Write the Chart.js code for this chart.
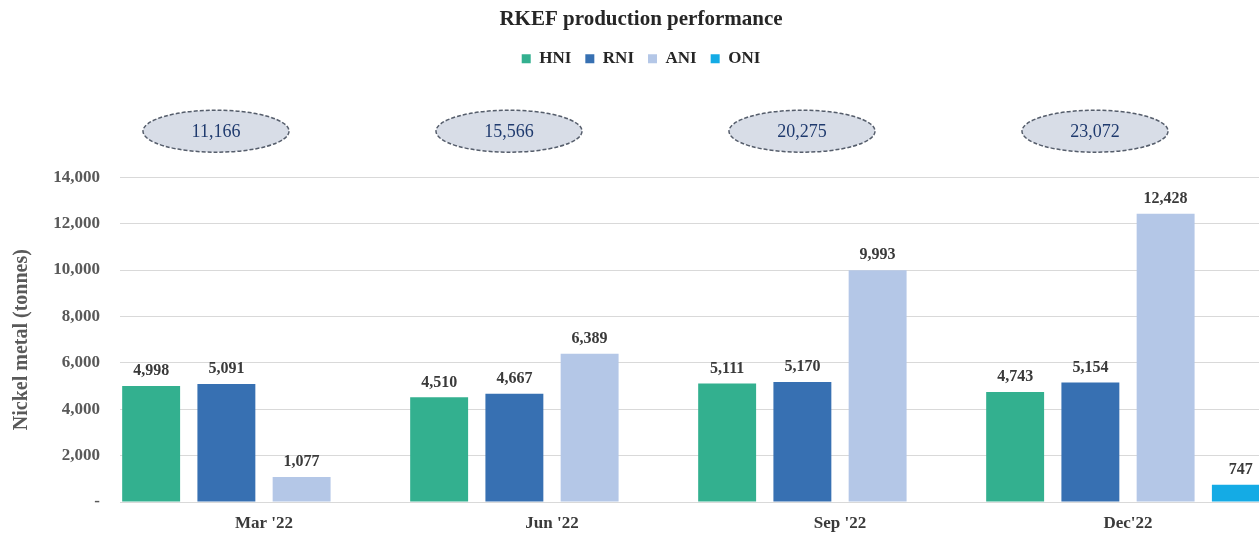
<!DOCTYPE html>
<html>
<head>
<meta charset="utf-8">
<script src="https://cdn.jsdelivr.net/npm/chart.js@4"></script>
<style>
  body { margin: 0; overflow: hidden; background: #fff; }
</style>
</head>
<body>
<canvas id="rkef" width="1272" height="533"></canvas>
<script>
// Chart data
const quarters = ["Mar '22", "Jun '22", "Sep '22", "Dec'22"];
const hni = [4998, 4510, 5111, 4743];
const rni = [5091, 4667, 5170, 5154];
const ani = [1077, 6389, 9993, 12428];
const oni = [null, null, null, 747];
const totals = [11166, 15566, 20275, 23072];
const yTicks = [0, 2000, 4000, 6000, 8000, 10000, 12000, 14000];

const serif = '"Liberation Serif", "Times New Roman", serif';
const fmt = v => v.toLocaleString('en-US');

// extra room under the legend for the total bubbles
const legendSpace = {
    id: 'legendSpace',
    beforeInit(chart) {
        const fit = chart.legend.fit;
        chart.legend.fit = function () {
            fit.bind(chart.legend)();
            this.height += 100;
        };
    }
};

// value labels above bars
const valueLabels = {
    id: 'valueLabels',
    afterDatasetsDraw(chart) {
        const ctx = chart.ctx;
        ctx.save();
        ctx.font = 'bold 16px ' + serif;
        ctx.fillStyle = '#3a3a3a';
        ctx.textAlign = 'center';
        ctx.textBaseline = 'bottom';
        chart.data.datasets.forEach((ds, i) => {
            chart.getDatasetMeta(i).data.forEach((bar, j) => {
                if (ds.data[j] == null) return;
                ctx.fillText(fmt(ds.data[j]), bar.x, bar.y - 7);
            });
        });
        ctx.restore();
    }
};

// dashed ellipses with quarter totals
const totalBubbles = {
    id: 'totalBubbles',
    afterDraw(chart) {
        const ctx = chart.ctx;
        const x = chart.scales.x;
        const cy = chart.chartArea.top - 46;
        ctx.save();
        totals.forEach((t, i) => {
            const cx = x.getPixelForValue(i) - 48 + i * 5;
            ctx.beginPath();
            ctx.ellipse(cx, cy, 73, 21, 0, 0, Math.PI * 2);
            ctx.fillStyle = '#d8dde7';
            ctx.fill();
            ctx.setLineDash([4, 2]);
            ctx.lineWidth = 1.5;
            ctx.strokeStyle = '#555d6b';
            ctx.stroke();
            ctx.setLineDash([]);
            ctx.font = '18px ' + serif;
            ctx.fillStyle = '#1f3a6e';
            ctx.textAlign = 'center';
            ctx.textBaseline = 'middle';
            ctx.fillText(fmt(t), cx, cy + 1);
        });
        ctx.restore();
    }
};

const ctx = document.getElementById('rkef').getContext('2d');
const rkefChart = new Chart(ctx, {
    type: 'bar',
    data: {
        labels: quarters,
        datasets: [
            { label: 'HNI', data: hni, backgroundColor: '#33b08f' },
            { label: 'RNI', data: rni, backgroundColor: '#3770b2' },
            { label: 'ANI', data: ani, backgroundColor: '#b4c7e7' },
            { label: 'ONI', data: oni, backgroundColor: '#14abe5' }
        ]
    },
    options: {
        responsive: false,
        animation: false,
        devicePixelRatio: 1,
        categoryPercentage: 1.045,
        barPercentage: 0.77,
        layout: { padding: { left: 10, right: 0, top: 7, bottom: 0 } },
        plugins: {
            title: {
                display: true,
                text: 'RKEF production performance',
                color: '#262626',
                font: { family: serif, size: 21, weight: 'bold' },
                padding: { top: 0, bottom: 4 }
            },
            legend: {
                position: 'top',
                labels: {
                    boxWidth: 9,
                    boxHeight: 9,
                    padding: 14,
                    color: '#262626',
                    font: { family: serif, size: 17, weight: 'bold' }
                }
            },
            tooltip: { enabled: false }
        },
        scales: {
            x: {
                afterFit: scale => { scale.height = 31; },
                grid: { display: false, drawTicks: false },
                border: { color: '#d9d9d9' },
                ticks: {
                    color: '#3a3a3a',
                    padding: 11,
                    font: { family: serif, size: 17, weight: 'bold' }
                }
            },
            y: {
                min: 0,
                max: 14000,
                afterBuildTicks: scale => { scale.ticks = yTicks.map(v => ({ value: v })); },
                afterFit: scale => { scale.width = 110; },
                grid: { color: '#d9d9d9', drawTicks: false },
                border: { display: false },
                ticks: {
                    color: '#595959',
                    padding: 20,
                    font: { family: serif, size: 17, weight: 'bold' },
                    callback: v => v === 0 ? '-' : fmt(v)
                },
                title: {
                    display: true,
                    text: 'Nickel metal (tonnes)',
                    color: '#595959',
                    padding: 0,
                    font: { family: serif, size: 20, weight: 'bold' }
                }
            }
        }
    },
    plugins: [legendSpace, valueLabels, totalBubbles]
});
</script>
</body>
</html>
